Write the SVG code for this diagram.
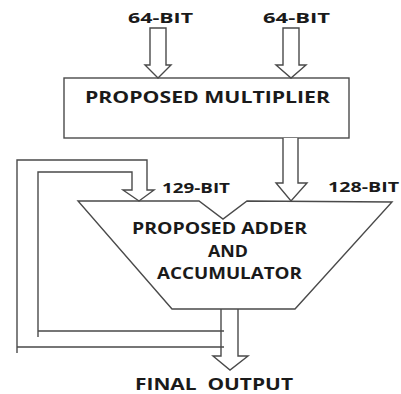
<svg xmlns="http://www.w3.org/2000/svg" width="401" height="394" viewBox="0 0 401 394">
  <style>
    .shape { fill: #ffffff; stroke: #4a4a4a; stroke-width: 1.4; stroke-linejoin: miter; }
    .wire { fill: none; stroke: #4a4a4a; stroke-width: 1.4; }
    .lbl { font-family: "Open Sans", "Liberation Sans", sans-serif; font-weight: bold; fill: #1a1a1a; font-size: 15px; white-space: pre; }
    .big { font-size: 16px; }
  </style>
  <rect width="401" height="394" fill="#ffffff"/>

  <!-- input labels -->
  <g id="input-a-label">
    <text class="lbl" x="128" y="22.5" textLength="65" lengthAdjust="spacingAndGlyphs">64-BIT</text>
  </g>
  <g id="input-b-label">
    <text class="lbl" x="263" y="22.5" textLength="67" lengthAdjust="spacingAndGlyphs">64-BIT</text>
  </g>

  <!-- multiplier block -->
  <g id="multiplier">
    <rect class="shape" x="64" y="78" width="285" height="60"/>
    <text class="lbl big" x="85" y="103" textLength="245" lengthAdjust="spacingAndGlyphs">PROPOSED MULTIPLIER</text>
  </g>

  <!-- adder / accumulator block -->
  <g id="adder">
    <polygon class="shape" points="78,201 199,201 223,219 247,201 392,202 295,309 172,309"/>
    <text class="lbl big" x="132" y="234" textLength="175" lengthAdjust="spacingAndGlyphs">PROPOSED ADDER</text>
    <text class="lbl big" x="208" y="257" textLength="40" lengthAdjust="spacingAndGlyphs">AND</text>
    <text class="lbl big" x="157" y="279" textLength="145" lengthAdjust="spacingAndGlyphs">ACCUMULATOR</text>
  </g>

  <!-- bus width labels -->
  <g id="feedback-label">
    <text class="lbl" x="162" y="193" textLength="68" lengthAdjust="spacingAndGlyphs">129-BIT</text>
  </g>
  <g id="product-label">
    <text class="lbl" x="328" y="192" textLength="71" lengthAdjust="spacingAndGlyphs">128-BIT</text>
  </g>

  <g id="output-label">
    <text class="lbl big" x="135" y="390" textLength="158" lengthAdjust="spacingAndGlyphs" xml:space="preserve">FINAL  OUTPUT</text>
  </g>

  <!-- hollow bus arrows and feedback loop -->
  <g id="connectors">
    <path class="shape" d="M150,28 V65 H145 L158,78 L171,65 H166 V28 Z"/>
    <path class="shape" d="M283,28 V65 H276 L291,78 L306,65 H299 V28 Z"/>
    <path class="shape" d="M283,138 V183 H276 L291,201 L307,183 H298 V138"/>
    <path class="wire" d="M221,309 V356 H213 L230,370 L248,356 H238 V309"/>
    <path class="wire" d="M17,353 V160 H147 V190 H154 L139,201 L123,190 H132 V172 H38 V337"/>
    <path class="wire" d="M17,347 H224 M38,331 H224"/>
  </g>
</svg>
